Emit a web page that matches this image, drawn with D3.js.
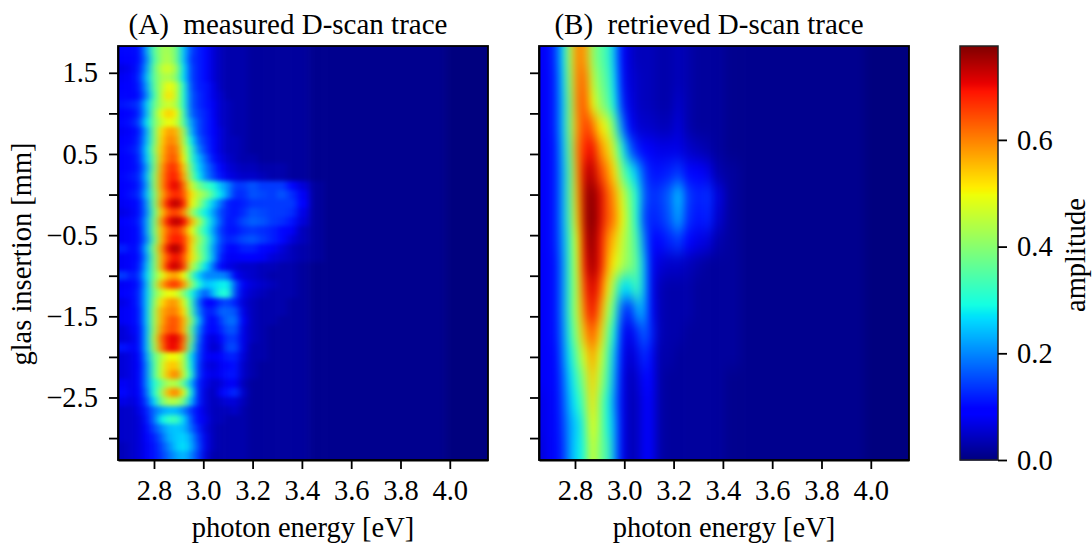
<!DOCTYPE html>
<html>
<head>
<meta charset="utf-8">
<script src="https://cdn.jsdelivr.net/npm/d3@7"></script>
<style>
	html, body { margin: 0; background: #fff; }
	text { font-family: "Liberation Serif", serif; fill: #000; }
	.axis path, .axis line { stroke: #000; stroke-width: 1.8; }
	.axis text { font-size: 28.5px; }
</style>
</head>
<body>
<div id="chart"></div>
<script>
// photon energy [eV] of each column
var energiesMeasured = [2.68, 2.71, 2.74, 2.77, 2.80, 2.83, 2.86, 2.89, 2.92, 2.95, 2.98, 3.01, 3.04, 3.07,
	3.10, 3.13, 3.16, 3.20, 3.24, 3.28, 3.32, 3.36, 3.40, 3.46, 3.52, 3.62, 3.82, 4.15];
var energiesRetrieved = [2.66, 2.69, 2.72, 2.75, 2.78, 2.81, 2.84, 2.87, 2.90, 2.93, 2.96, 2.99, 3.02, 3.05,
	3.08, 3.11, 3.14, 3.18, 3.22, 3.26, 3.30, 3.34, 3.38, 3.44, 3.50, 3.60, 3.80, 4.15];

var xTicks = [2.8, 3.0, 3.2, 3.4, 3.6, 3.8, 4.0];
var yTicks = [1.5, 1.0, 0.5, 0.0, -0.5, -1.0, -1.5, -2.0, -2.5, -3.0];
var yTickLabels = ["1.5", "", "0.5", "", "\u22120.5", "", "\u22121.5", "", "\u22122.5", ""];
var colorTicks = [0.0, 0.2, 0.4, 0.6];

// measured trace, amplitude x 100, rows run from top to bottom
var measured = [
	[10,10,11,22,35,42,43,38,25,15,12,10,6,4,3,3,3,2,2,2,2,2,2,1,1,1,1,0],
	[9,9,11,20,34,42,44,38,25,14,12,10,6,4,3,3,3,2,2,2,2,2,2,1,1,1,1,0],
	[7,8,12,22,36,45,47,42,27,15,12,10,6,4,3,3,3,2,2,2,2,2,2,1,1,1,1,0],
	[8,9,13,24,36,43,44,40,27,15,12,10,6,4,3,3,3,2,2,2,2,2,2,1,1,1,1,0],
	[9,9,12,22,35,44,50,46,30,16,12,11,7,4,3,3,3,2,2,2,2,2,2,1,1,1,1,0],
	[10,9,11,20,33,45,52,46,30,17,13,11,7,5,3,3,3,2,2,2,2,2,2,1,1,1,1,0],
	[11,12,14,25,36,44,47,44,31,17,13,11,8,5,4,3,3,2,2,2,2,2,2,1,1,1,1,0],
	[9,10,13,24,38,49,54,50,33,18,14,12,8,5,4,3,3,2,2,2,2,2,2,1,1,1,1,0],
	[10,11,15,27,38,46,50,47,35,22,15,12,9,5,4,3,3,2,2,2,2,2,2,1,1,1,1,0],
	[8,9,12,23,38,52,58,56,42,24,15,12,9,6,4,3,3,2,2,2,2,2,2,1,1,1,1,0],
	[9,10,13,24,38,53,60,58,44,28,17,13,10,6,4,4,3,2,2,2,2,2,2,1,1,1,1,0],
	[10,11,14,26,40,54,62,61,47,32,20,14,10,6,4,4,3,2,2,2,2,2,2,1,1,1,1,0],
	[9,10,13,25,38,55,63,63,50,33,24,17,11,7,5,4,3,3,2,2,2,2,2,1,1,1,1,0],
	[9,10,12,22,38,57,66,66,54,37,26,19,14,9,6,5,4,4,3,3,3,2,2,1,1,1,1,0],
	[10,11,13,24,40,58,67,68,57,40,28,20,15,11,7,6,5,5,4,3,3,2,2,1,1,1,1,0],
	[9,10,12,22,40,58,68,71,62,47,38,33,30,24,20,14,14,16,14,14,14,10,6,2,1,1,1,0],
	[9,11,13,24,38,56,65,68,64,52,44,40,33,27,20,13,13,16,15,14,16,13,8,2,1,1,1,0],
	[8,9,11,21,38,58,70,74,68,50,42,32,25,18,12,11,12,14,14,14,14,14,9,2,1,1,1,0],
	[7,8,11,20,36,54,64,66,60,44,34,28,22,15,12,11,13,16,15,14,14,13,7,2,1,1,1,0],
	[9,10,12,22,38,58,70,74,70,56,44,32,24,16,11,12,15,17,16,14,13,11,6,2,1,1,1,0],
	[8,9,11,22,38,55,64,67,62,50,38,30,22,14,11,11,13,14,13,12,10,8,4,2,1,1,1,0],
	[8,9,11,20,36,55,66,69,66,54,42,34,24,15,12,13,15,16,14,12,10,6,4,2,1,1,1,0],
	[12,9,12,24,40,58,71,75,68,52,40,33,22,14,10,10,12,12,10,8,6,4,3,2,1,1,1,0],
	[8,9,11,22,38,56,66,70,64,52,42,33,23,12,8,8,9,9,8,6,5,4,3,2,1,1,1,0],
	[8,9,12,24,38,56,70,73,66,46,36,27,18,10,7,6,5,5,4,4,3,3,2,1,1,1,1,0],
	[14,11,14,26,38,48,56,58,50,36,26,20,20,20,18,8,6,5,4,3,3,3,2,1,1,1,1,0],
	[8,9,12,24,40,56,64,66,58,42,30,24,26,28,28,16,8,6,5,4,3,3,2,1,1,1,1,0],
	[9,10,13,25,38,46,50,48,40,30,22,16,24,30,30,15,7,5,4,3,3,3,2,1,1,1,1,0],
	[7,9,13,25,40,52,58,58,48,33,18,9,10,14,15,12,6,4,3,3,3,2,2,1,1,1,1,0],
	[8,9,12,25,42,56,60,60,52,35,20,12,12,17,17,16,7,4,3,3,3,2,2,1,1,1,1,0],
	[8,9,12,25,42,56,63,64,56,40,24,12,9,14,18,18,8,4,3,3,2,2,2,1,1,1,1,0],
	[6,8,11,24,42,58,64,64,56,36,20,11,9,12,16,16,7,4,3,2,2,2,2,1,1,1,1,0],
	[6,7,11,24,44,62,70,71,62,38,18,8,6,9,14,14,7,4,3,2,2,2,2,1,1,1,1,0],
	[11,8,11,24,42,60,70,70,60,34,16,8,5,7,15,15,7,3,3,2,2,2,2,1,1,1,1,0],
	[6,7,10,22,36,44,50,50,44,27,15,8,8,9,12,12,6,3,3,2,2,2,2,1,1,1,1,0],
	[6,7,9,20,34,46,54,54,44,28,14,7,6,8,10,11,5,3,2,2,2,2,2,1,1,1,1,0],
	[6,7,10,20,34,46,56,60,46,30,14,8,7,8,11,11,5,3,2,2,2,2,2,1,1,1,1,0],
	[8,7,10,20,30,38,44,44,36,24,12,7,5,6,8,8,4,2,2,2,2,2,2,1,1,1,1,0],
	[10,7,9,18,30,42,56,60,48,28,12,6,4,8,11,13,5,2,2,2,2,2,2,1,1,1,1,0],
	[7,6,8,15,26,38,44,44,38,24,12,6,4,5,6,6,4,2,2,2,2,2,2,1,1,1,1,0],
	[5,5,7,12,18,22,24,24,20,14,10,6,4,4,4,5,3,2,2,2,2,2,2,1,1,1,1,0],
	[5,5,6,11,18,28,32,33,26,16,10,7,4,4,3,3,3,2,2,2,2,2,2,1,1,1,1,0],
	[5,5,6,10,15,20,24,25,24,18,12,6,4,3,3,3,3,2,2,2,2,2,2,1,1,1,1,0],
	[5,5,6,9,12,17,23,25,26,22,14,7,4,3,3,3,3,2,2,2,2,2,2,1,1,1,1,0],
	[4,5,6,8,11,15,20,25,27,23,15,7,4,3,3,3,3,2,2,2,2,2,2,1,1,1,1,0],
	[4,5,6,8,11,14,18,22,24,20,14,6,3,3,3,3,3,2,2,2,2,2,2,1,1,1,1,0]
];

// retrieved trace, amplitude x 100, rows run from top to bottom
var retrieved = [
	[8,9,14,26,44,60,58,42,36,33,24,10,6,4,4,4,3,3,4,3,2,2,2,1,1,1,1,0],
	[8,9,13,25,42,60,62,46,38,35,26,11,6,5,4,4,3,3,4,3,2,2,2,1,1,1,1,0],
	[8,9,13,24,40,60,64,50,41,37,28,13,7,5,4,4,3,3,5,3,2,2,2,1,1,1,1,0],
	[8,9,13,24,40,58,66,62,52,48,36,20,10,6,5,5,4,4,6,3,2,2,2,1,1,1,1,0],
	[8,9,12,23,38,60,68,70,60,54,45,30,18,12,9,8,7,7,7,5,4,3,2,1,1,1,1,0],
	[8,9,12,22,36,58,72,74,66,60,52,38,30,24,15,11,11,12,14,10,9,7,3,2,1,1,1,0],
	[8,9,12,22,36,56,74,77,72,64,58,48,38,30,17,13,14,17,24,14,12,13,6,2,1,1,1,0],
	[8,9,12,22,35,54,74,78,72,64,60,50,40,30,15,12,13,16,22,13,11,12,5,2,1,1,1,0],
	[8,9,12,21,33,50,72,77,70,60,54,46,40,34,20,10,10,12,14,9,7,6,3,2,1,1,1,0],
	[8,9,11,20,33,48,70,76,70,58,50,44,40,36,24,8,6,5,5,4,3,2,2,2,1,1,1,0],
	[8,9,11,20,33,46,66,72,66,52,40,27,27,34,24,8,4,3,3,3,2,2,2,2,1,1,1,0],
	[8,9,11,20,33,46,62,70,60,46,33,16,12,22,22,10,4,3,3,3,2,2,2,2,1,1,1,0],
	[8,9,11,19,31,43,56,64,54,40,28,11,7,12,17,12,4,3,3,2,2,2,2,2,1,1,1,0],
	[8,9,10,18,28,38,48,58,48,36,24,10,5,7,13,10,3,3,2,2,2,2,2,2,1,1,1,0],
	[8,9,10,16,26,33,42,54,44,34,22,8,4,5,10,9,3,2,2,2,2,2,2,1,1,1,1,0],
	[7,8,10,15,24,29,38,52,40,30,20,8,4,4,8,8,3,2,2,2,2,2,2,1,1,1,1,0],
	[7,8,10,14,22,26,34,50,40,30,22,8,4,4,8,8,3,2,2,2,2,2,2,1,1,1,1,0],
	[6,8,10,13,22,27,32,48,38,34,22,8,4,4,8,8,3,2,2,2,2,2,2,1,1,1,1,0]
];

// jet colormap stops
var jetStops = [0, 0.11, 0.125, 0.34, 0.35, 0.375, 0.64, 0.65, 0.66, 0.89, 0.91, 1];
var jetColors = ["#00007f", "#0000ff", "#0000ff", "#00dbff", "#00e6f7", "#14ffe2",
	"#eeff08", "#f7f500", "#ffec00", "#ff1300", "#e80000", "#7f0000"];

var vmax = 0.776;
var margin = { top: 46, bottom: 460 };
var panelWidth = 370;

// set scales
var y = d3.scaleLinear().domain([1.83, -3.27]).range([margin.top, margin.bottom]);
var color = d3.scaleLinear()
	.domain(jetStops.map(function(s) { return s * vmax; }))
	.range(jetColors)
	.clamp(true);

var svg = d3.select("#chart")
  .append("svg")
	.attr("width", 1092)
	.attr("height", 546);

var defs = svg.append("defs");

function addBlur(id, dev) {
	defs.append("filter")
		.attr("id", id)
		.attr("filterUnits", "userSpaceOnUse")
		.attr("x", 0).attr("y", 0).attr("width", 1092).attr("height", 546)
		.attr("color-interpolation-filters", "sRGB")
	  .append("feGaussianBlur")
		.attr("stdDeviation", dev);
}
addBlur("blur-measured", "3.5 2.2");
addBlur("blur-retrieved", "4 8");

function drawPanel(left, energies, rows, blurId, title, showYLabels) {
	var x = d3.scaleLinear().domain([2.654, 4.155]).range([left, left + panelWidth]);
	var band = d3.scaleBand().domain(d3.range(rows.length)).range([margin.top, margin.bottom]);

	// column edges sit halfway between the energies, the outer ones run past the frame
	var edges = d3.pairs(energies).map(function(p) { return x((p[0] + p[1]) / 2); });
	edges.unshift(left - 30);
	edges.push(left + panelWidth + 30);

	var clipId = "clip-" + blurId;
	defs.append("clipPath")
		.attr("id", clipId)
	  .append("rect")
		.attr("x", left)
		.attr("y", margin.top)
		.attr("width", panelWidth)
		.attr("height", margin.bottom - margin.top);

	var cells = svg.append("g")
		.attr("clip-path", "url(#" + clipId + ")")
	  .append("g")
		.attr("filter", "url(#" + blurId + ")");

	rows.forEach(function(row, i) {
		// first and last rows run past the frame too, so the blur does not fade at the edges
		var top = i === 0 ? margin.top - 30 : band(i);
		var bottom = i === rows.length - 1 ? margin.bottom + 30 : band(i) + band.bandwidth();
		cells.selectAll(null)
			.data(row)
			.enter().append("rect")
			.attr("x", function(d, j) { return edges[j]; })
			.attr("y", top)
			.attr("width", function(d, j) { return edges[j + 1] - edges[j] + 0.5; })
			.attr("height", bottom - top + 0.5)
			.attr("fill", function(d) { return color(d / 100); });
	});

	// draw the axes
	var xAxis = d3.axisBottom(x).tickValues(xTicks).tickFormat(d3.format(".1f"))
		.tickSize(9).tickSizeOuter(0).tickPadding(11);
	svg.append("g")
		.attr("class", "x axis")
		.attr("transform", "translate(0," + margin.bottom + ")")
		.call(xAxis);

	var yAxis = d3.axisLeft(y).tickValues(yTicks).tickSize(9).tickSizeOuter(0).tickPadding(11)
		.tickFormat(function(d, i) { return showYLabels ? yTickLabels[i] : ""; });
	svg.append("g")
		.attr("class", "y axis")
		.attr("transform", "translate(" + left + ",0)")
		.call(yAxis);

	// frame
	svg.append("rect")
		.attr("x", left)
		.attr("y", margin.top)
		.attr("width", panelWidth)
		.attr("height", margin.bottom - margin.top)
		.attr("fill", "none")
		.attr("stroke", "#000")
		.attr("stroke-width", 1.8);

	svg.append("text")
		.attr("x", left + panelWidth / 2 - 15)
		.attr("y", 34)
		.attr("text-anchor", "middle")
		.style("font-size", "29px")
		.style("white-space", "pre")
		.text(title);

	svg.append("text")
		.attr("x", left + panelWidth / 2)
		.attr("y", 537)
		.attr("text-anchor", "middle")
		.style("font-size", "28.5px")
		.text("photon energy [eV]");
}

drawPanel(118, energiesMeasured, measured, "blur-measured", "(A)  measured D-scan trace", true);
drawPanel(539, energiesRetrieved, retrieved, "blur-retrieved", "(B)  retrieved D-scan trace", false);

svg.append("text")
	.attr("transform", "translate(31,254) rotate(-90)")
	.attr("text-anchor", "middle")
	.style("font-size", "28.5px")
	.text("glas insertion [mm]");

// colorbar
var cbar = { left: 960, width: 38 };
var cbarY = d3.scaleLinear().domain([0, vmax]).range([margin.bottom, margin.top]);
svg.append("g").selectAll("rect")
	.data(d3.range(margin.top, margin.bottom))
	.enter().append("rect")
	.attr("x", cbar.left)
	.attr("y", function(d) { return d; })
	.attr("width", cbar.width)
	.attr("height", 1.5)
	.attr("fill", function(d) { return color(cbarY.invert(d + 0.5)); });

svg.append("rect")
	.attr("x", cbar.left)
	.attr("y", margin.top)
	.attr("width", cbar.width)
	.attr("height", margin.bottom - margin.top)
	.attr("fill", "none")
	.attr("stroke", "#222")
	.attr("stroke-width", 1.5);

svg.append("g")
	.attr("class", "c axis")
	.attr("transform", "translate(" + (cbar.left + cbar.width) + ",0)")
	.call(d3.axisRight(cbarY).tickValues(colorTicks).tickFormat(d3.format(".1f")).tickSize(9).tickPadding(10).tickSizeOuter(0))
	.select(".domain").remove();

svg.append("text")
	.attr("transform", "translate(1085,255) rotate(-90)")
	.attr("text-anchor", "middle")
	.style("font-size", "28.5px")
	.text("amplitude");
</script>
</body>
</html>
